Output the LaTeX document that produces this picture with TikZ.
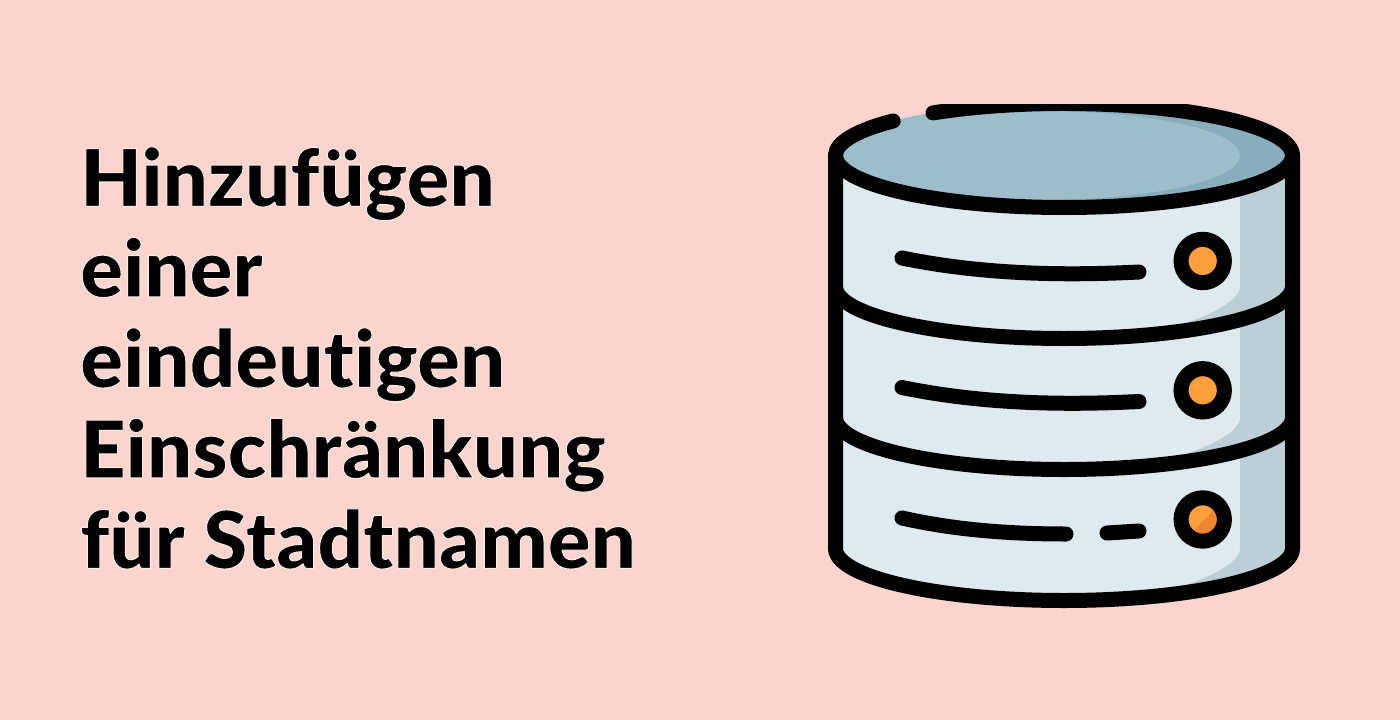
\documentclass[tikz,border=0pt]{standalone}
\usepackage{fontspec}
\setmainfont{Lato}[BoldFont={Lato Black},Ligatures=NoCommon,Kerning=On]
\definecolor{bgc}{HTML}{FBD5CD}
\definecolor{topl}{HTML}{9DBDCA}
\definecolor{topd}{HTML}{88AEBE}
\definecolor{bodyl}{HTML}{DFEAEF}
\definecolor{bodyd}{HTML}{BDCFD6}
\definecolor{orl}{HTML}{FF9F3E}
\definecolor{ord}{HTML}{EE862F}
\tikzset{
  ink/.style={draw=black,line width=15pt,line cap=round,line join=round},
  knob/.style={draw=black,line width=15pt,fill=orl},
  title/.style={font=\fontsize{79.5}{90.5}\selectfont\bfseries,align=left,inner sep=0pt,text=black}
}
\newcommand{\halo}{\special{pdf:code 2 Tr 1 j 1 w 0.98 0.93 0.91 RG}}
\begin{document}
\begin{tikzpicture}[x=1pt,y=-1pt]
\useasboundingbox (0,0) rectangle (1400,720);
\fill[bgc] (0,0) rectangle (1400,720);
\node[title,anchor=north west] (heading) at (80,146.5) {\halo Hinzufügen\\\halo einer\\\halo eindeutigen\\\halo Einschränkung\\\halo für Stadtnamen\special{pdf:code 0 Tr}};
\begin{scope}
\clip (0,104) rectangle (1400,720);
% body
\begin{scope}
\clip (835.5,155.5) -- (835.5,548.5) arc[start angle=180,end angle=0,x radius=228.5,y radius=52] -- (1292.5,155.5) -- cycle;
\fill[bodyd] (820,100) rectangle (1310,620);
\fill[bodyl] (820,100) rectangle (1240,620);
\foreach \s in {286.5,417.5,548.5}{
  \fill[bodyd] (1240,\s) .. controls (1240,\s+14) and (1210,\s+32) .. (1150,\s+47) -- (1240,\s+33) -- cycle;
}
\end{scope}
% top face
\fill[topd] (1064,155.5) ellipse[x radius=228.5,y radius=52];
\begin{scope}
\clip (820,90) rectangle (1064,220);
\fill[topl] (1064,155.5) ellipse[x radius=228.5,y radius=52];
\end{scope}
\fill[topl] (1041.5,155.5) ellipse[x radius=198.5,y radius=44.5];
% outline
\draw[ink] (835.5,155.5) -- (835.5,548.5) arc[start angle=180,end angle=0,x radius=228.5,y radius=52] -- (1292.5,155.5);
\draw[ink] (835.5,155.5) arc[start angle=180,end angle=0,x radius=228.5,y radius=52];
\draw[ink] (835.5,286.5) arc[start angle=180,end angle=0,x radius=228.5,y radius=52];
\draw[ink] (835.5,417.5) arc[start angle=180,end angle=0,x radius=228.5,y radius=52];
\draw[ink] (835.5,155.5) arc[start angle=180,end angle=221.6,x radius=228.5,y radius=52];
\draw[ink] (933,112.9) arc[start angle=235,end angle=360,x radius=228.5,y radius=52];
% dashes
\foreach \d in {0,129.5}{
  \draw[ink] (902,258+\d) .. controls (980,274+\d) and (1060,276+\d) .. (1139,272+\d);
}
\draw[ink] (902,518) .. controls (955,530) and (1010,534) .. (1066,534);
\draw[ink] (1107,533) -- (1139,531);
% knobs
\draw[knob] (1202.7,261) circle[radius=21.7];
\draw[knob] (1202.7,390.3) circle[radius=21.7];
\fill[orl] (1202.7,519.5) circle[radius=15];
\begin{scope}
\clip (1202.7,519.5) circle[radius=15];
\fill[ord] (1188,536) -- (1219,505) -- (1222,540) -- cycle;
\end{scope}
\draw[draw=black,line width=15pt] (1202.7,519.5) circle[radius=21.7];
\end{scope}
\end{tikzpicture}
\end{document}
